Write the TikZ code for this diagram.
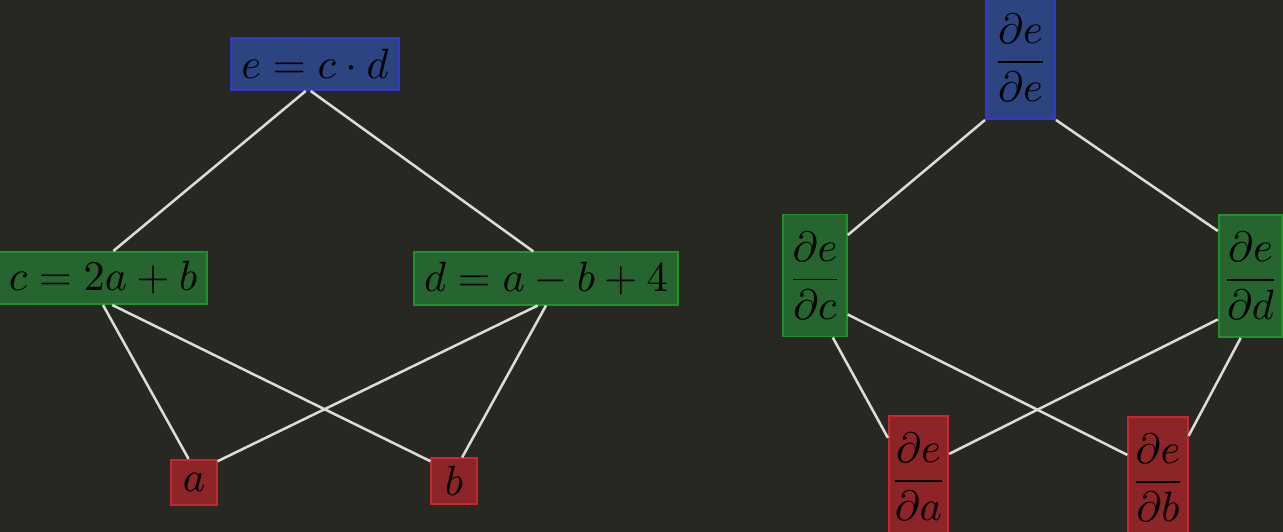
\documentclass[tikz,border=0pt]{standalone}
\definecolor{bgdark}{HTML}{272822}
\definecolor{edgegray}{HTML}{DCDCD6}
\definecolor{bluefill}{HTML}{2C4480}
\definecolor{blueline}{HTML}{3535D0}
\definecolor{greenfill}{HTML}{266530}
\definecolor{greenline}{HTML}{1E9428}
\definecolor{redfill}{HTML}{8C2428}
\definecolor{redline}{HTML}{C8282D}
\tikzset{
  box/.style={draw,line width=0.45pt,inner sep=1.5pt,text=black},
  topbox/.style={box,draw=blueline,fill=bluefill},
  midbox/.style={box,draw=greenline,fill=greenfill},
  leafbox/.style={box,draw=redline,fill=redfill},
  eqn/.style={inner xsep=2.4pt,minimum height=12.3pt},
  leaf/.style={minimum size=10.7pt},
  grad/.style={inner xsep=0pt,minimum width=15pt,minimum height=28.8pt},
  edge/.style={draw=edgegray,line width=0.6pt}
}
\begin{document}
\begin{tikzpicture}[x=0.236pt,y=-0.236pt]
%\draw[step=50,gray,very thin] (0,0) grid (1283,532);
\fill[bgdark] (0,0) rectangle (1283,532);
\useasboundingbox (0,0) rectangle (1283,532);
% forward graph
\node[topbox,eqn] (e) at (315,64) {$e=c\cdot d$};
\node[midbox,eqn] (c) at (103,278) {$c=2a+b$};
\node[midbox,eqn] (d) at (546,278.5) {$d=a-b+4$};
\node[leafbox,leaf] (a) at (194,482.5) {$a$};
\node[leafbox,leaf] (b) at (454,481) {$b$};
\draw[edge] (e.251) -- (c.69);
\draw[edge] (e.261) -- (d.115);
\draw[edge] (c.south) -- (a.103);
\draw[edge] (c.-71) -- (b.140);
\draw[edge] (d.253) -- (a.42);
\draw[edge] (d.south) -- (b.71);
% backward graph
\node[topbox,grad,minimum width=16.3pt] (de) at (1020.5,58) {$\displaystyle\frac{\partial e}{\partial e}$};
\node[midbox,grad] (dc) at (815,275.5) {$\displaystyle\frac{\partial e}{\partial c}$};
\node[midbox,grad] (dd) at (1250.5,276) {$\displaystyle\frac{\partial e}{\partial d}$};
\node[leafbox,grad,minimum width=14pt] (da) at (918.5,477) {$\displaystyle\frac{\partial e}{\partial a}$};
\node[leafbox,grad,minimum width=14pt] (db) at (1158,478) {$\displaystyle\frac{\partial e}{\partial b}$};
\draw[edge] (de.south west) -- (dc.51);
\draw[edge] (de.south east) -- (dd.126);
\draw[edge] (dc.-74) -- (da.128);
\draw[edge] (dc.-50) -- (db.143);
\draw[edge] (dd.233) -- (da.37);
\draw[edge] (dd.-99) -- (db.54);
\end{tikzpicture}
\end{document}
